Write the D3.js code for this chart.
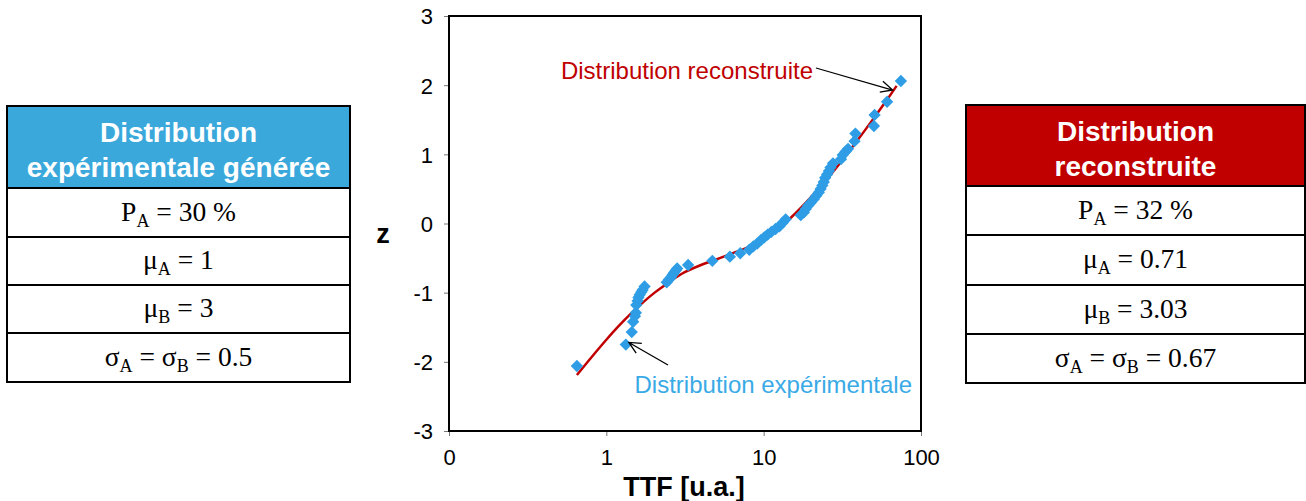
<!DOCTYPE html>
<html><head><meta charset="utf-8">
<script src="https://cdn.jsdelivr.net/npm/d3@7"></script>
<style>body{margin:0;background:#fff}svg{display:block}</style>
</head><body>
<script>
// ---- data ----
const expTTF = [0.65,1.33,1.45,1.48,1.52,1.54,1.55,1.58,1.60,1.63,1.67,1.70,1.75,
  2.42,2.50,2.57,2.64,2.70,2.76,2.82,3.31,
  4.72,6.1,7.1,8.1,8.6,9.1,9.6,10.1,10.6,11.2,11.9,12.6,13.2,13.8,
  17.2,18.0,18.5,19.2,19.9,20.8,21.6,22.4,23.0,23.6,24.1,24.6,25.3,26.0,26.6,27.6,
  31.0,31.8,33.2,34.4,37.8,38.3,50.2,50.7,60.9,74.5];
const expZ = [-2.06,-1.75,-1.57,-1.42,-1.34,-1.29,-1.18,-1.12,-1.07,-1.03,-0.99,-0.96,-0.91,
  -0.85,-0.81,-0.78,-0.74,-0.71,-0.68,-0.65,-0.60,
  -0.54,-0.48,-0.43,-0.38,-0.33,-0.29,-0.24,-0.20,-0.16,-0.12,-0.08,-0.04,0.01,0.06,
  0.12,0.16,0.21,0.26,0.30,0.35,0.40,0.45,0.50,0.55,0.60,0.66,0.71,0.76,0.81,0.87,
  0.93,0.99,1.04,1.08,1.19,1.30,1.41,1.57,1.76,2.06];
const fitTTF = [0.65,0.8,1,1.2,1.5,2,2.5,3,4,5,6,8,10,12,15,20,25,30,40,50,60,70];
const fitZ = [-2.19,-1.94,-1.68,-1.48,-1.26,-1.01,-0.85,-0.73,-0.60,-0.52,-0.45,-0.34,-0.22,-0.10,0.09,0.38,0.63,0.85,1.22,1.52,1.77,1.99];
const xTickValues = [0.1,1,10,100];
const xTickLabels = ["0","1","10","100"];
const yTickValues = [-3,-2,-1,0,1,2,3];
const leftTitle = ["Distribution","expérimentale générée"];
const rightTitle = ["Distribution","reconstruite"];
// rows: [symbol, sub, symbol2, sub2, value]
const leftRows = [["P","A",null,null,"30 %"],["μ","A",null,null,"1"],["μ","B",null,null,"3"],["σ","A","σ","B","0.5"]];
const rightRows = [["P","A",null,null,"32 %"],["μ","A",null,null,"0.71"],["μ","B",null,null,"3.03"],["σ","A","σ","B","0.67"]];

// ---- drawing ----
const W=1306,H=501;
const svg=d3.select("body").append("svg").attr("width",W).attr("height",H);
const SANS="'Liberation Sans', Arial, sans-serif", SERIF="'Liberation Serif','Times New Roman',serif";
const RED="#C00000", BLUE="#2E9DE6", BLUE_TXT="#3AAAE6", HEAD_BLUE="#3BA8DC";

const x=d3.scaleLog().domain([0.1,100]).range([449,921]);
const y=d3.scaleLinear().domain([-3,3]).range([431,16]);

// axes
const gx=svg.append("g").attr("transform","translate(0,431)")
  .call(d3.axisBottom(x).tickValues(xTickValues).tickFormat((d,i)=>xTickLabels[i]).tickSize(5).tickPadding(13));
const gy=svg.append("g").attr("transform","translate(449,0)")
  .call(d3.axisLeft(y).tickValues(yTickValues).tickFormat(d=>String(d)).tickSize(5).tickPadding(11));
[gx,gy].forEach(g=>{g.select(".domain").remove();
  g.selectAll(".tick line").attr("stroke","#777");
  g.selectAll(".tick text").attr("font-family",SANS).attr("font-size",22).attr("fill","#000");});
gy.selectAll(".tick text").attr("dy","0.36em");

svg.append("rect").attr("x",449).attr("y",16).attr("width",472).attr("height",415)
  .attr("fill","none").attr("stroke","#000").attr("stroke-width",2);

// axis titles
svg.append("text").attr("x",684).attr("y",496).attr("text-anchor","middle")
  .attr("font-family",SANS).attr("font-weight","bold").attr("font-size",27).text("TTF [u.a.]");
svg.append("text").attr("x",383).attr("y",243).attr("text-anchor","middle")
  .attr("font-family",SANS).attr("font-weight","bold").attr("font-size",27).text("z");

// fit line
const fit=fitTTF.map((t,i)=>[t,fitZ[i]]);
svg.append("path").datum(fit).attr("fill","none").attr("stroke",RED).attr("stroke-width",2.5)
  .attr("d",d3.line().x(d=>x(d[0])).y(d=>y(d[1])).curve(d3.curveMonotoneX));

// experimental points
const pts=expTTF.map((t,i)=>[t,expZ[i]]);
svg.append("g").selectAll("path").data(pts).join("path")
  .attr("d",d3.symbol(d3.symbolSquare,76)())
  .attr("transform",d=>`translate(${x(d[0])},${y(d[1])}) rotate(45)`)
  .attr("fill",BLUE);

// annotations
function arrow(x1,y1,x2,y2){
  const a=Math.atan2(y2-y1,x2-x1), L=13, s=0.45;
  svg.append("path").attr("fill","none").attr("stroke","#000").attr("stroke-width",1.3)
    .attr("d",`M${x1},${y1}L${x2},${y2}M${x2-L*Math.cos(a-s)},${y2-L*Math.sin(a-s)}L${x2},${y2}L${x2-L*Math.cos(a+s)},${y2-L*Math.sin(a+s)}`);
}
svg.append("text").attr("x",813).attr("y",79).attr("text-anchor","end")
  .attr("font-family",SANS).attr("font-size",24).attr("fill",RED).text("Distribution reconstruite");
arrow(816,68,x(66),y(1.93));
svg.append("text").attr("x",912).attr("y",393).attr("text-anchor","end")
  .attr("font-family",SANS).attr("font-size",24).attr("fill",BLUE_TXT).text("Distribution expérimentale");
arrow(668,365,x(1.39),y(-1.72));

// tables
function table(x0,x1,top,headBottom,rowLines,color,title,rows){
  const cx=(x0+x1)/2;
  svg.append("rect").attr("x",x0).attr("y",top).attr("width",x1-x0).attr("height",headBottom-top).attr("fill",color);
  title.forEach((t,i)=>svg.append("text").attr("x",cx).attr("y",top+36+i*35).attr("text-anchor","middle")
    .attr("font-family",SANS).attr("font-weight","bold").attr("font-size",28).attr("fill","#fff").text(t));
  const lines=[headBottom,...rowLines];
  rows.forEach((r,i)=>{
    const yc=(lines[i]+lines[i+1])/2;
    const t=svg.append("text").attr("x",cx).attr("y",yc+8).attr("text-anchor","middle")
      .attr("font-family",SERIF).attr("font-size",27.5).attr("fill","#000");
    t.append("tspan").text(r[0]);
    t.append("tspan").attr("font-size",18).attr("dy",6).text(r[1]);
    if(r[2]){
      t.append("tspan").attr("dy",-6).text(" = "+r[2]);
      t.append("tspan").attr("font-size",18).attr("dy",6).text(r[3]);
    }
    t.append("tspan").attr("dy",-6).text(" = "+r[4]);
  });
  svg.append("g").selectAll("line").data(lines.slice(0,-1)).join("line")
    .attr("x1",x0).attr("x2",x1).attr("y1",d=>d).attr("y2",d=>d).attr("stroke","#000").attr("stroke-width",2);
  svg.append("rect").attr("x",x0).attr("y",top).attr("width",x1-x0).attr("height",lines[lines.length-1]-top)
    .attr("fill","none").attr("stroke","#000").attr("stroke-width",2);
}
table(7,350,106,188,[237,285,333,382],HEAD_BLUE,leftTitle,leftRows);
table(966,1305,105,186,[235,285,334,383],RED,rightTitle,rightRows);
</script>
</body></html>
